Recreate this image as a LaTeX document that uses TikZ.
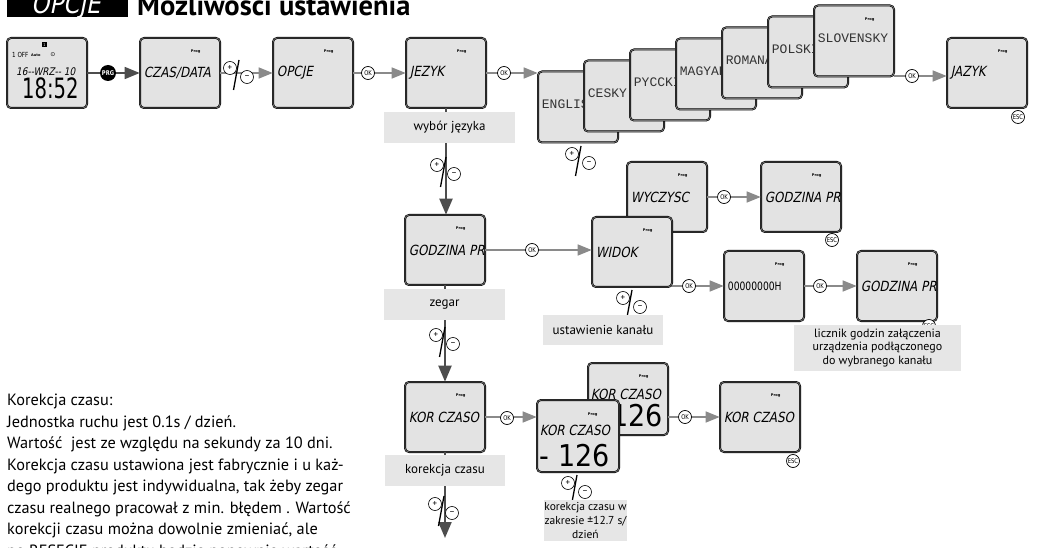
\documentclass[tikz,border=0pt]{standalone}
\usepackage{fontspec}
\setmainfont{PT Sans}
\newfontfamily\lcd[FakeSlant=0.2,FakeStretch=0.85]{DejaVu Sans}
\newfontfamily\lcdup[FakeStretch=0.8]{DejaVu Sans}
\newfontfamily\lcdbig[FakeStretch=0.7]{DejaVu Sans}
\newfontfamily\lcdnum[FakeStretch=0.9]{DejaVu Sans}
\newfontfamily\lcdthin{Liberation Mono}
\newfontfamily\symf{DejaVu Sans}
\usetikzlibrary{arrows.meta}

\definecolor{screenfill}{HTML}{E3E3E3}
\definecolor{labelfill}{HTML}{E6E6E6}
\definecolor{conn}{HTML}{8A8A8A}
\definecolor{conndark}{HTML}{4D4D4D}

\tikzset{
  screen/.style={rectangle, rounded corners=4pt, fill=screenfill, draw=black,
    line width=0.6pt, double=black!55, double distance=0.8pt,
    minimum width=80pt, minimum height=70pt, inner sep=0pt},
  langscreen/.style={screen, minimum height=71pt},
  prog/.style={inner sep=0pt, font=\symf\bfseries\fontsize{3.6}{4}\selectfont},
  lcdtext/.style={anchor=west, inner sep=0pt, font=\lcd\fontsize{14}{14}\selectfont},
  langtext/.style={anchor=west, inner sep=0pt, text=black!80, font=\lcdthin\fontsize{13}{13}\selectfont},
  bignum/.style={anchor=west, inner sep=0pt, font=\lcdnum\fontsize{30}{30}\selectfont},
  hconn/.style={draw=conn, line width=1.4pt, -{Triangle[length=14pt,width=11pt]}},
  vconn/.style={draw=conndark, line width=2pt, -{Triangle[length=16pt,width=13pt]}},
  prgconn/.style={draw=conndark, line width=1.6pt, -{Triangle[length=15pt,width=12pt]}},
  badge/.style={circle, draw=black, fill=white, line width=0.7pt, inner sep=0pt,
    minimum size=13pt, font=\lcdup\fontsize{6.5}{6.5}\selectfont},
  prgbadge/.style={circle, fill=black, text=white, inner sep=0pt, minimum size=16pt,
    font=\lcdup\bfseries\fontsize{6.5}{6.5}\selectfont},
  pmc/.style={circle, draw=black, fill=white, line width=0.6pt, minimum size=13pt,
    inner sep=0pt, font=\fontsize{9}{9}\selectfont},
  pmslash/.style={draw=black, line width=1.3pt},
  caption/.style={fill=labelfill, inner sep=0pt, align=center, font=\fontsize{13}{15}\selectfont}
}

% one LCD screen: options, name, centre, displayed text
\newcommand\lcdscreen[4][]{%
  \node[screen,#1] (#2) at (#3) {};
  \node[prog] (#2-prog) at ([shift={(56,14)}]#2.north west) {Prog};
  \node[lcdtext] (#2-text) at ([shift={(4,0)}]#2.west) {#4};
}
% one language screen: name, centre, language
\newcommand\langscreen[3]{%
  \node[langscreen] (#1) at (#2) {};
  \node[prog] (#1-prog) at ([shift={(56,14)}]#1.north west) {Prog};
  \node[langtext] (#1-text) at ([shift={(4,-2.5)}]#1.west) {#3};
}
% plus / minus key pair: name, centre of the plus key
\newcommand\pmkeys[2]{%
  \node[pmc] (#1-p) at (#2) {+};
  \node[pmc] (#1-m) at ([shift={(17,9)}]#1-p.center) {–};
  \draw[pmslash] ([shift={(9,-8)}]#1-p.center) -- ([shift={(3.5,22)}]#1-p.center);
}

\begin{document}
\begin{tikzpicture}[x=1pt,y=-1pt]
\useasboundingbox (0,0) rectangle (1050,548);
\clip (0,0) rectangle (1050,548);

% heading
\node[fill=black, anchor=south west, minimum width=121pt, minimum height=40pt, inner sep=0pt] (titlebox) at (7,17) {};
\node[anchor=base west, inner sep=0pt, text=white, font=\lcd\fontsize{27}{27}\selectfont] (titlelcd) at (31,14) {OPCJE};
\node[anchor=base west, inner sep=0pt, font=\bfseries\fontsize{28.5}{28.5}\selectfont] (title) at (137,16) {Możliwości ustawienia};

% home display
\node[screen] (home) at (47,73) {};
\node[fill=black, text=white, inner sep=0pt, minimum size=5pt, font=\lcdup\fontsize{4}{4}\selectfont] (home-ch) at (44.5,45) {1};
\node[anchor=west, inner sep=0pt, font=\lcdup\fontsize{7}{7}\selectfont] (home-off) at (12,55) {1 OFF};
\node[anchor=west, inner sep=0pt, font=\symf\bfseries\fontsize{3.5}{4}\selectfont] (home-auto) at (31,55) {Auto};
\node[inner sep=0pt, font=\symf\fontsize{6}{6}\selectfont] (home-clock) at (53,54.5) {⊙};
\node[anchor=west, inner sep=0pt, font=\lcd\fontsize{10.5}{10.5}\selectfont] (home-date) at (16,71.5) {16--WRZ-- 10};
\node[anchor=base west, inner sep=0pt, font=\lcdbig\fontsize{28}{28}\selectfont] (home-time) at (22,99) {18:52};

% main menu row
\lcdscreen{czas}{180,73}{CZAS/DATA}
\lcdscreen{opcje}{313,73}{OPCJE}
\lcdscreen{jezyk}{446,73}{JEZYK}

% language list
\langscreen{english}{578,107}{ENGLISH}
\langscreen{cesky}{624,96}{CESKY}
\langscreen{pyccki}{670,85}{PYCCKIJ}
\langscreen{magyar}{716,74}{MAGYAR}
\langscreen{romana}{762,63}{ROMANA}
\langscreen{polski}{808,52}{POLSKI}
\langscreen{slovensky}{854,41}{SLOVENSKY}
\lcdscreen{jazyk}{987,73}{JAZYK}

% channel submenu
\lcdscreen{godzina}{445,250}{GODZINA PR}
\lcdscreen{wyczysc}{667,197}{WYCZYSC}
\lcdscreen{widok}{632,252}{WIDOK}
\lcdscreen{godzinaB}{801,197}{GODZINA PR}
\node[screen] (licznik) at (764,286) {};
\node[prog] (licznik-prog) at ([shift={(56,14)}]licznik.north west) {Prog};
\node[anchor=west, inner sep=0pt, font=\lcdup\fontsize{11.5}{11.5}\selectfont] (licznik-text) at ([shift={(4,0)}]licznik.west) {00000000H};
\lcdscreen{godzinaC}{897,286}{GODZINA PR}

% time correction
\lcdscreen{kor}{445,417}{KOR CZASO}
\node[screen, minimum width=80pt, minimum height=72pt] (korback) at (628,399) {};
\node[prog] (korback-prog) at ([shift={(56,14)}]korback.north west) {Prog};
\node[lcdtext] (korback-text) at ([shift={(3,32)}]korback.north west) {KOR CZASO};
\node[bignum] (korback-num) at ([shift={(5,53)}]korback.north west) {- 126};
\node[screen, minimum width=82pt, minimum height=72pt] (korfront) at (578,436) {};
\node[prog] (korfront-prog) at ([shift={(56,15)}]korfront.north west) {Prog};
\node[lcdtext] (korfront-text) at ([shift={(3,31)}]korfront.north west) {KOR CZASO};
\node[bignum] (korfront-num) at ([shift={(3,56)}]korfront.north west) {- 126};
\lcdscreen{korB}{760,417}{KOR CZASO}

% horizontal transitions
\draw[prgconn] (home.east) -- (czas.west);
\node[prgbadge] (prg) at (108,73) {PRG};
\draw[hconn] (czas.east) -- (opcje.west);
\pmkeys{pmA}{230,68}
\draw[hconn] (opcje.east) -- (jezyk.west);
\node[badge] (okA) at (368,73) {OK};
\draw[hconn] (jezyk.east) -- (jezyk.east -| english.west);
\node[badge] (okB) at (504,73) {OK};
\coordinate (langout) at (912,76);
\draw[hconn] (slovensky.east |- langout) -- (langout -| jazyk.west);
\node[badge] (okC) at (langout) {OK};
\node[badge] (escA) at (1018,117) {ESC};
\pmkeys{pmB}{572,154}

\draw[hconn] (godzina.east) -- (godzina.east -| widok.west);
\node[badge] (okD) at (532,250) {OK};
\draw[hconn] (wyczysc.east) -- (godzinaB.west);
\node[badge] (okE) at (724,197) {OK};
\node[badge] (escB) at (832,240) {ESC};
\draw[hconn] (licznik.west -| widok.east) -- (licznik.west);
\node[badge] (okF) at (689,286) {OK};
\draw[hconn] (licznik.east) -- (godzinaC.west);
\node[badge] (okG) at (820,286) {OK};
\node[badge] (escC) at (929,326) {ESC};
\pmkeys{pmC}{623,298}

\draw[hconn] (kor.east) -- (kor.east -| korfront.west);
\node[badge] (okH) at (507,418) {OK};
\draw[hconn] (korB.west -| korback.east) -- (korB.west);
\node[badge] (okI) at (685,417) {OK};
\node[badge] (escD) at (793,461) {ESC};
\pmkeys{pmD}{568,483}

% vertical menu flow
\coordinate (menuend) at (445,538);
\draw[vconn] (jezyk.south) -- (jezyk.south |- godzina.north);
\draw[vconn] (godzina.south) -- (kor.north);
\draw[vconn] (kor.south) -- (menuend);
\pmkeys{pmE}{437,165}
\pmkeys{pmF}{436,335}
\pmkeys{pmG}{435,504}

% captions
\node[caption, minimum width=131pt, minimum height=31pt] (capA) at (449.5,127.5) {wybór języka};
\node[caption, minimum width=121pt, minimum height=31pt] (capB) at (444.5,304.5) {zegar};
\node[caption, minimum width=120pt, minimum height=30pt] (capC) at (603,330) {ustawienie kanału};
\node[caption, minimum width=167pt, minimum height=46pt, font=\fontsize{12}{13.5}\selectfont] (capD) at (877.5,348) {licznik godzin załączenia\\urządzenia podłączonego\\do wybranego kanału};
\node[caption, minimum width=120pt, minimum height=31pt] (capE) at (445,470.5) {korekcja czasu};
\node[caption, minimum width=83pt, minimum height=41pt, font=\fontsize{11.5}{14}\selectfont] (capF) at (585.5,520.5) {korekcja czasu w\\zakresie ±12.7 s/\\dzień};

% note on time correction
\node[anchor=north west, inner sep=0pt, align=left, font=\fontsize{16.3}{21.5}\selectfont] (note) at (7,394) {Korekcja czasu:\\
Jednostka ruchu jest 0.1s / dzień.\\
Wartość\ \ jest ze względu na sekundy za 10 dni.\\
Korekcja czasu ustawiona jest fabrycznie i u każ-\\
dego produktu jest indywidualna, tak żeby zegar\\
czasu realnego pracował z min. błędem . Wartość\\
korekcji czasu można dowolnie zmieniać, ale\\
po RESECIE produktu będzie ponownie wartość};
\end{tikzpicture}
\end{document}
